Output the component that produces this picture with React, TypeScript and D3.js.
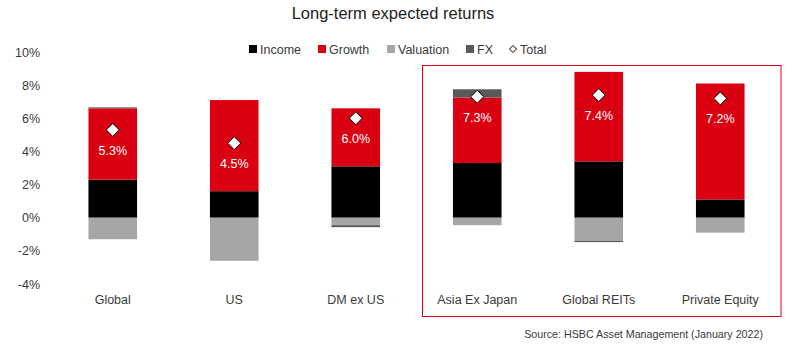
import React from "react";
import * as d3 from "d3";

const categories = ["Global", "US", "DM ex US", "Asia Ex Japan", "Global REITs", "Private Equity"];
const income = [2.3, 1.6, 3.1, 3.3, 3.4, 1.1];
const growth = [4.3, 5.5, 3.5, 3.95, 5.4, 7.0];
const valuation = [-1.3, -2.6, -0.45, -0.45, -1.4, -0.9];
const fx = [0.06, 0, -0.12, 0.5, -0.07, 0];
const total = [5.3, 4.5, 6.0, 7.3, 7.4, 7.2];
const yTicks = [-4, -2, 0, 2, 4, 6, 8, 10];
const seriesKeys = ["Income", "Growth", "Valuation", "FX"];
const colors: Record<string, string> = {
  Income: "#000000",
  Growth: "#DB0011",
  Valuation: "#A6A6A6",
  FX: "#595959",
};

export default function App() {
  const W = 799, H = 346;
  const font = "'Liberation Sans', Arial, sans-serif";
  const textColor = "#3a3a3a";
  const rows = categories.map((c, i) => ({
    cat: c,
    Income: income[i],
    Growth: growth[i],
    Valuation: valuation[i],
    FX: fx[i],
  }));
  const stacked = d3
    .stack<any>()
    .keys(seriesKeys)
    .offset(d3.stackOffsetDiverging)(rows);
  const x = d3.scaleBand().domain(categories).range([52, 781]).paddingInner(0.6).paddingOuter(0.3);
  const y = d3.scaleLinear().domain([-4, 10]).range([284, 52]);
  const bw = x.bandwidth();
  const dia = (cx: number, cy: number, r: number) =>
    `M${cx},${cy - r}L${cx + r},${cy}L${cx},${cy + r}L${cx - r},${cy}Z`;

  const legend = [
    { k: "Income", x: 249 },
    { k: "Growth", x: 318 },
    { k: "Valuation", x: 387 },
    { k: "FX", x: 466 },
  ];

  return (
    <svg width={W} height={H} style={{ position: "absolute", left: 0, top: 0, background: "#fff" }} fontFamily={font}>
      <text x={393} y={19} textAnchor="middle" fontSize={16.5} fill="#222">
        Long-term expected returns
      </text>
      {legend.map((l) => (
        <g key={l.k}>
          <rect x={l.x} y={45} width={8} height={8} fill={colors[l.k]} />
          <text x={l.x + 11} y={53.5} fontSize={12.5} fill={textColor}>
            {l.k}
          </text>
        </g>
      ))}
      <path d={dia(513, 49, 3.5)} fill="#fff" stroke="#000" strokeWidth={1} />
      <text x={520} y={53.5} fontSize={12.5} fill={textColor}>
        Total
      </text>

      {yTicks.map((t) => (
        <text key={t} x={40} y={y(t) + 4.5} textAnchor="end" fontSize={12.5} fill={textColor}>
          {t}%
        </text>
      ))}

      {stacked.map((s) =>
        s.map((d, i) => {
          const y0 = y(Math.max(d[0], d[1]));
          const y1 = y(Math.min(d[0], d[1]));
          if (Math.abs(d[1] - d[0]) < 1e-9) return null;
          return (
            <rect
              key={s.key + i}
              x={x(categories[i])!}
              y={y0}
              width={bw}
              height={Math.max(1, y1 - y0)}
              fill={colors[s.key]}
            />
          );
        })
      )}

      {total.map((t, i) => {
        const cx = x(categories[i])! + bw / 2;
        const cy = y(t);
        return (
          <g key={i}>
            <path d={dia(cx, cy, 6.5)} fill="#fff" stroke="#000" strokeWidth={1} />
            <text x={cx} y={cy + 25} textAnchor="middle" fontSize={12.5} fill="#fff">
              {t.toFixed(1)}%
            </text>
          </g>
        );
      })}

      {categories.map((c) => (
        <text key={c} x={x(c)! + bw / 2} y={304} textAnchor="middle" fontSize={12.5} fill={textColor}>
          {c}
        </text>
      ))}

      <rect x={422.5} y={65.5} width={358.5} height={251} fill="none" stroke="#DB0011" strokeWidth={1} />

      <text x={763} y={338} textAnchor="end" fontSize={10.7} fill={textColor}>
        Source: HSBC Asset Management (January 2022)
      </text>
    </svg>
  );
}
